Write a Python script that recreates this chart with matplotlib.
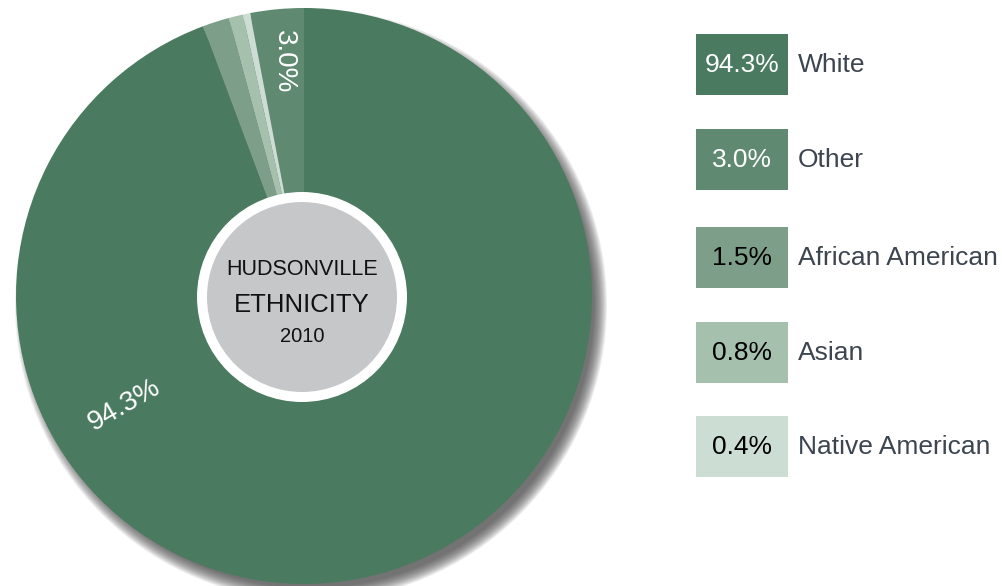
import matplotlib
matplotlib.use("Agg")
import matplotlib.pyplot as plt
from matplotlib.patches import Circle, Rectangle

# ---- data ----
categories = ["White", "Other", "African American", "Asian", "Native American"]
values = [94.3, 3.0, 1.5, 0.8, 0.4]
legend_labels = ["94.3%", "3.0%", "1.5%", "0.8%", "0.4%"]
colors = ["#4a7a5f", "#5f8a71", "#7d9f8a", "#a5c1ae", "#ccded3"]
box_text_colors = ["white", "white", "black", "black", "black"]
pie_order = ["Other", "Native American", "Asian", "African American", "White"]
title_lines = ["HUDSONVILLE", "ETHNICITY", "2010"]

plt.rcParams["font.family"] = ["Liberation Sans", "DejaVu Sans"]

W, H = 1003, 586
fig = plt.figure(figsize=(W / 100, H / 100), dpi=100)
ax = fig.add_axes([0, 0, 1, 1])
ax.set_xlim(0, W)
ax.set_ylim(0, H)
ax.axis("off")

cx, cy, R = 304, 290, 288

# shadow (soft, offset lower-right)
for k in range(14):
    ax.add_patch(Circle((cx + 7, cy - 9), R + 8 - k, color="#444444",
                        alpha=0.085, lw=0, zorder=1))

idx = [categories.index(n) for n in pie_order]
pv = [values[i] for i in idx]
pc = [colors[i] for i in idx]
wedges, _ = ax.pie(pv, colors=pc, startangle=90, counterclock=True,
                   center=(cx, cy), radius=R,
                   wedgeprops=dict(linewidth=0))
for w in wedges:
    w.set_zorder(2)
ax.set_xlim(0, W)
ax.set_ylim(0, H)
ax.set_aspect("equal")

# wedge labels
ax.text(284, H - 62, "3.0%", color="white", fontsize=20, rotation=-90,
        ha="center", va="center", zorder=5)
ax.text(124, H - 405, "94.3%", color="white", fontsize=20, rotation=30,
        ha="center", va="center", zorder=5)

# center circle
ax.add_patch(Circle((302, H - 297), 105, color="white", lw=0, zorder=3))
ax.add_patch(Circle((302, H - 297), 95, color="#c6c7c9", lw=0, zorder=4))
ax.text(302, H - 269, title_lines[0], fontsize=15.5,
        ha="center", va="center", color="#111111", zorder=5)
ax.text(302, H - 305, title_lines[1], fontsize=18.5,
        ha="center", va="center", color="#111111", zorder=5)
ax.text(302, H - 337, title_lines[2], fontsize=14.5,
        ha="center", va="center", color="#111111", zorder=5)

# legend
box_tops = [34, 129, 227, 322, 416]
for i, cat in enumerate(categories):
    top = box_tops[i]
    ax.add_patch(Rectangle((696, H - top - 61), 92, 61, color=colors[i], lw=0, zorder=3))
    ax.text(742, H - top - 31, legend_labels[i], color=box_text_colors[i],
            fontsize=19, ha="center", va="center", zorder=5)
    ax.text(798, H - top - 31, cat, color="#3d4550", fontsize=19,
            ha="left", va="center", zorder=5)

fig.savefig("out.png", dpi=100)
